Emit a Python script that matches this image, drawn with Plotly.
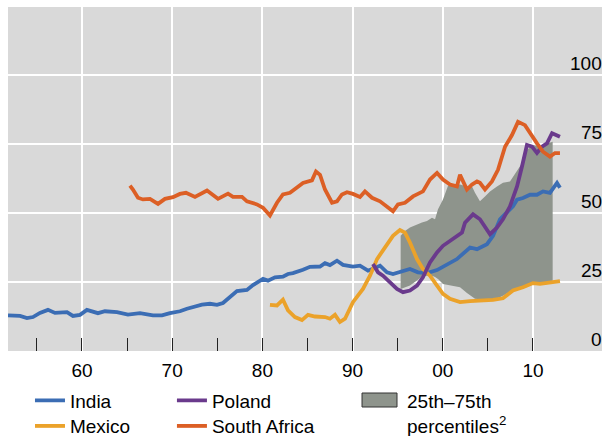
import plotly.graph_objects as go

# ---- data (percent) ----
india_years = [1951.80, 1953.13, 1953.90, 1954.57, 1955.34, 1956.23, 1957.01, 1958.34, 1959.00, 1959.78,
               1960.55, 1961.77, 1962.55, 1963.88, 1965.10, 1966.43, 1967.87, 1968.87, 1969.76, 1970.86,
               1971.64, 1972.53, 1973.30, 1974.19, 1974.97, 1975.63, 1976.41, 1977.18, 1978.29, 1978.96,
               1980.07, 1980.62, 1981.40, 1982.28, 1982.84, 1983.39, 1984.50, 1985.28, 1986.39, 1986.94,
               1987.49, 1988.27, 1988.94, 1990.04, 1990.82, 1991.71, 1993.04, 1993.81, 1994.48, 1995.59,
               1996.36, 1997.25, 1998.25, 1999.36, 2000.47, 2001.57, 2003.02, 2003.79, 2004.90, 2005.57,
               2006.34, 2007.12, 2007.78, 2008.23, 2008.89, 2009.67, 2010.44, 2011.11, 2011.88, 2012.66,
               2012.99]
india_vals = [12.9, 12.7, 11.9, 12.3, 13.8, 14.9, 13.8, 14.1, 12.7, 13.1,
              14.9, 13.7, 14.4, 14.1, 13.2, 13.7, 12.9, 12.9, 13.7, 14.4,
              15.3, 16.1, 16.8, 17.1, 16.7, 17.4, 19.5, 21.7, 22.1, 23.9,
              26.1, 25.5, 26.7, 26.9, 27.9, 28.2, 29.4, 30.5, 30.6, 31.8,
              31.1, 32.7, 31.2, 30.6, 30.9, 29.1, 30.9, 28.5, 27.9, 29.1,
              29.7, 28.5, 28.2, 29.3, 31.5, 33.3, 37.5, 36.9, 38.7, 41.7,
              47.7, 50.1, 52.4, 54.8, 55.4, 56.6, 56.6, 57.8, 57.3, 60.9,
              59.1]

mexico_years = [1980.84, 1981.62, 1982.28, 1982.84, 1983.61, 1984.39, 1985.06, 1985.83, 1986.94, 1987.49,
                1988.05, 1988.60, 1989.16, 1990.04, 1991.15, 1991.93, 1992.71, 1993.81, 1994.48, 1995.25,
                1995.81, 1996.36, 1997.14, 1997.80, 1998.58, 1999.36, 2000.02, 2000.80, 2001.91, 2003.02,
                2004.12, 2005.57, 2006.67, 2007.78, 2008.89, 2010.00, 2010.78, 2011.88, 2012.99]
mexico_vals = [16.7, 16.5, 18.6, 14.7, 12.3, 11.2, 13.1, 12.5, 12.3, 11.7,
               13.1, 10.5, 11.7, 17.7, 22.5, 27.3, 33.3, 38.7, 41.7, 43.8,
               42.9, 39.3, 33.3, 29.7, 27.3, 23.7, 20.7, 18.9, 17.7, 18.1,
               18.3, 18.5, 19.1, 21.9, 23.1, 24.6, 24.3, 24.9, 25.3]

poland_years = [1992.26, 1992.82, 1993.37, 1994.15, 1994.92, 1995.59, 1996.36, 1997.14, 1997.80, 1998.58,
                1999.36, 2000.02, 2000.80, 2001.57, 2002.13, 2002.46, 2003.35, 2004.12, 2004.90, 2005.23,
                2006.01, 2006.67, 2007.45, 2008.23, 2008.78, 2009.33, 2009.89, 2010.44, 2011.00, 2011.55,
                2012.11, 2012.66, 2012.99]
poland_vals = [31.5, 28.5, 27.3, 24.9, 22.5, 21.3, 21.9, 23.7, 26.7, 32.1,
               35.7, 38.1, 39.9, 41.7, 42.9, 46.5, 49.5, 47.7, 44.1, 42.3,
               44.7, 47.7, 52.4, 59.6, 66.8, 74.6, 74.0, 71.7, 74.0, 75.2,
               78.9, 78.2, 77.6]

safrica_years = [1965.32, 1965.65, 1966.21, 1966.76, 1967.54, 1968.43, 1969.20, 1970.09, 1970.86, 1971.53,
                 1972.53, 1973.86, 1975.08, 1976.19, 1976.74, 1977.74, 1978.29, 1979.40, 1980.07, 1980.84,
                 1981.62, 1982.28, 1983.06, 1983.84, 1984.50, 1985.50, 1985.94, 1986.39, 1986.94, 1987.72,
                 1988.27, 1988.82, 1989.38, 1990.04, 1990.82, 1991.37, 1992.15, 1993.04, 1993.81, 1994.48,
                 1995.03, 1995.81, 1996.70, 1997.80, 1998.58, 1999.36, 2000.02, 2000.80, 2001.57, 2001.91,
                 2002.68, 2003.24, 2003.79, 2004.12, 2004.68, 2005.45, 2006.12, 2006.90, 2007.67, 2008.34,
                 2009.11, 2009.67, 2010.44, 2011.11, 2011.88, 2012.44, 2012.99]
safrica_vals = [59.9, 58.5, 55.5, 54.9, 55.1, 53.3, 55.1, 55.7, 56.9, 57.3,
                55.8, 58.1, 55.1, 57.0, 55.8, 55.8, 54.2, 53.1, 51.9, 49.1,
                53.7, 56.7, 57.3, 59.1, 60.9, 61.8, 65.0, 63.8, 58.5, 53.7,
                54.2, 56.7, 57.5, 56.9, 55.8, 57.8, 55.5, 54.2, 52.4, 50.6,
                53.1, 53.7, 56.0, 57.8, 62.1, 64.5, 62.1, 60.3, 59.6, 63.8,
                58.5, 60.3, 61.4, 60.9, 58.5, 61.4, 65.6, 74.0, 78.2, 83.0,
                81.8, 78.8, 75.2, 72.2, 70.4, 71.7, 71.7]

band_years = [1995.33, 1995.81, 1996.36, 1997.14, 1997.69, 1998.25, 1998.80, 1999.14, 1999.47, 2000.02,
              2000.58, 2001.13, 2001.91, 2002.68, 2003.24, 2003.57, 2004.12, 2004.68, 2005.23, 2006.01,
              2006.67, 2007.45, 2008.23, 2008.78, 2009.33, 2010.00, 2010.78, 2011.55, 2012.18]
band_p75 = [41.7, 43.5, 44.7, 45.9, 46.5, 47.1, 48.3, 47.7, 51.3, 54.9,
            59.9, 60.3, 60.3, 59.6, 59.6, 57.3, 54.2, 56.0, 57.8, 59.6,
            60.9, 61.4, 65.0, 68.0, 72.8, 74.6, 74.0, 75.2, 75.8]
band_p25 = [22.5, 23.0, 23.7, 25.5, 27.0, 27.3, 27.3, 26.8, 26.1, 24.3,
            24.0, 23.7, 23.1, 21.0, 19.5, 18.9, 18.7, 18.5, 18.5, 19.0,
            20.0, 21.5, 22.5, 23.0, 23.5, 24.0, 24.0, 24.2, 24.5]

x_tick_vals = [1960, 1970, 1980, 1990, 2000, 2010]
x_tick_text = ["60", "70", "80", "90", "00", "10"]
x_minor_vals = [1955, 1965, 1975, 1985, 1995, 2005]
y_tick_vals = [0, 25, 50, 75, 100]

# ---- styling ----
FONT = "Liberation Sans, Arial, sans-serif"
FS = 19
C_INDIA = "#3B6DB4"
C_MEXICO = "#EBA22A"
C_POLAND = "#6A3A8C"
C_SAFRICA = "#DC5F25"
C_BAND = "#8E948C"
BG = "#D9D9D9"
LW = 3.8

fig = go.Figure()

# interquartile band
fig.add_trace(go.Scatter(x=band_years, y=band_p25, mode="lines", line=dict(width=0),
                         showlegend=False, hoverinfo="skip"))
fig.add_trace(go.Scatter(x=band_years, y=band_p75, mode="lines", line=dict(width=0),
                         fill="tonexty", fillcolor=C_BAND, showlegend=False, hoverinfo="skip"))

# one legend box per entry so the 2x2 grid can be placed exactly
fig.add_trace(go.Scatter(x=india_years, y=india_vals, mode="lines", name="India",
                         line=dict(color=C_INDIA, width=LW), legend="legend"))
fig.add_trace(go.Scatter(x=mexico_years, y=mexico_vals, mode="lines", name="Mexico",
                         line=dict(color=C_MEXICO, width=LW), legend="legend2"))
fig.add_trace(go.Scatter(x=poland_years, y=poland_vals, mode="lines", name="Poland",
                         line=dict(color=C_POLAND, width=LW), legend="legend3"))
fig.add_trace(go.Scatter(x=safrica_years, y=safrica_vals, mode="lines", name="South Africa",
                         line=dict(color=C_SAFRICA, width=LW), legend="legend4"))

# right-hand value labels sitting just above each gridline
annotations = [
    dict(x=1, xref="paper", y=v, yref="y", text=str(v), showarrow=False,
         xanchor="right", yanchor="bottom", xshift=2, yshift=-1,
         font=dict(family=FONT, size=FS, color="black"))
    for v in y_tick_vals
]
# legend entry for the shaded band
annotations.append(dict(x=0.668, xref="paper", y=-0.1105, yref="paper",
                        text="25th\u201375th<br>percentiles<sup>2</sup>", showarrow=False,
                        xanchor="left", yanchor="top", align="left",
                        font=dict(family=FONT, size=FS, color="black")))

shapes = [dict(type="rect", xref="paper", yref="paper", x0=0.596, x1=0.6549, y0=-0.1628, y1=-0.1221,
               fillcolor=C_BAND, line=dict(color="#333333", width=1))]

legend_common = dict(orientation="v", yanchor="top", xanchor="left", bgcolor="rgba(0,0,0,0)",
                     borderwidth=0, font=dict(family=FONT, size=FS, color="black"),
                     tracegroupgap=0, traceorder="normal")
ROW1_Y = -0.0887
ROW2_Y = -0.163
COL1_X = 0.037
COL2_X = 0.276

fig.update_layout(
    width=602, height=436,
    margin=dict(l=8, r=0, t=7, b=85, autoexpand=False),
    paper_bgcolor="white", plot_bgcolor=BG,
    font=dict(family=FONT, size=FS, color="black"),
    xaxis=dict(range=[1951.8, 2017.65], tickmode="array", tickvals=x_tick_vals, ticktext=x_tick_text,
               ticks="inside", ticklen=13, tickwidth=1, tickcolor="#222222", ticklabelstandoff=6,
               showgrid=True, gridcolor="white", gridwidth=2, zeroline=False, showline=False,
               tickfont=dict(family=FONT, size=FS, color="black"),
               minor=dict(tickmode="array", tickvals=x_minor_vals, ticks="inside", ticklen=13,
                          tickwidth=1, tickcolor="#222222", showgrid=False)),
    yaxis=dict(range=[0, 124.6], tickmode="array", tickvals=y_tick_vals[1:], showticklabels=False,
               ticks="", showgrid=True, gridcolor="white", gridwidth=2, zeroline=False, showline=False),
    legend=dict(x=COL1_X, y=ROW1_Y, **legend_common),
    legend2=dict(x=COL1_X, y=ROW2_Y, **legend_common),
    legend3=dict(x=COL2_X, y=ROW1_Y, **legend_common),
    legend4=dict(x=COL2_X, y=ROW2_Y, **legend_common),
    annotations=annotations,
    shapes=shapes,
)

fig.write_html("out.html")
